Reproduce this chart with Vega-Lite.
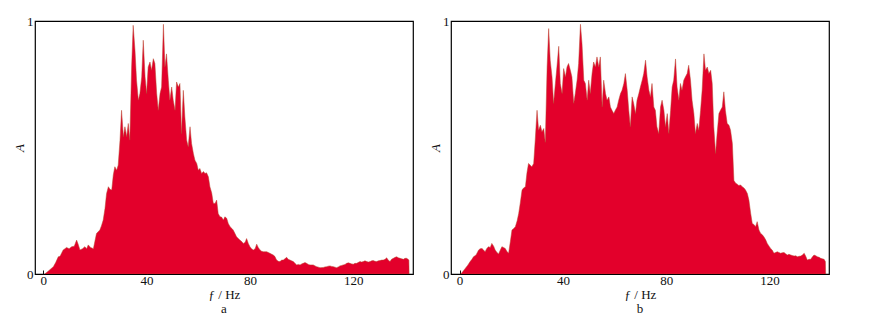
{
  "$schema": "https://vega.github.io/schema/vega-lite/v6.json",
  "background": "white",
  "padding": {"left": 12, "top": 14, "right": 5, "bottom": 4},
  "spacing": 14,
  "config": {
    "font": "Liberation Serif",
    "view": {"stroke": "black", "strokeWidth": 1.2},
    "axis": {
      "grid": false,
      "domain": false,
      "labelFont": "Liberation Serif",
      "titleFont": "Liberation Serif",
      "labelFontSize": 13,
      "titleFontSize": 13,
      "titleFontWeight": "normal",
      "labelColor": "#111",
      "titleColor": "#111",
      "tickColor": "#111"
    },
    "title": {"font": "Liberation Serif", "fontSize": 13, "fontWeight": "normal", "color": "#111"}
  },
  "datasets": {
    "a": [
      {"f": 0.6, "A": 0}, {"f": 2.0, "A": 0.012}, {"f": 3.9, "A": 0.029}, {"f": 4.8, "A": 0.045}, {"f": 5.8, "A": 0.068},
      {"f": 6.5, "A": 0.07}, {"f": 7.7, "A": 0.095}, {"f": 8.4, "A": 0.1}, {"f": 9.0, "A": 0.105}, {"f": 10.0, "A": 0.1},
      {"f": 11.0, "A": 0.108}, {"f": 12.0, "A": 0.11}, {"f": 12.9, "A": 0.134}, {"f": 13.5, "A": 0.118}, {"f": 14.2, "A": 0.095},
      {"f": 15.2, "A": 0.1}, {"f": 16.1, "A": 0.108}, {"f": 16.8, "A": 0.1}, {"f": 17.4, "A": 0.115}, {"f": 18.3, "A": 0.105},
      {"f": 19.4, "A": 0.1}, {"f": 20.0, "A": 0.13}, {"f": 20.6, "A": 0.16}, {"f": 21.9, "A": 0.174}, {"f": 22.5, "A": 0.19},
      {"f": 23.2, "A": 0.213}, {"f": 23.9, "A": 0.26}, {"f": 24.5, "A": 0.318}, {"f": 25.2, "A": 0.345}, {"f": 25.8, "A": 0.335},
      {"f": 26.5, "A": 0.332}, {"f": 27.1, "A": 0.391}, {"f": 27.7, "A": 0.424}, {"f": 28.4, "A": 0.41}, {"f": 29.0, "A": 0.43},
      {"f": 29.7, "A": 0.529}, {"f": 30.3, "A": 0.647}, {"f": 31.0, "A": 0.542}, {"f": 31.6, "A": 0.582}, {"f": 32.3, "A": 0.542},
      {"f": 32.9, "A": 0.595}, {"f": 33.5, "A": 0.529}, {"f": 34.2, "A": 0.818}, {"f": 34.8, "A": 0.983}, {"f": 35.5, "A": 0.884},
      {"f": 36.1, "A": 0.766}, {"f": 36.8, "A": 0.687}, {"f": 37.4, "A": 0.713}, {"f": 38.1, "A": 0.779}, {"f": 38.7, "A": 0.924},
      {"f": 39.4, "A": 0.779}, {"f": 40.0, "A": 0.713}, {"f": 40.6, "A": 0.818}, {"f": 41.3, "A": 0.838}, {"f": 41.9, "A": 0.805},
      {"f": 42.6, "A": 0.851}, {"f": 43.2, "A": 0.832}, {"f": 43.9, "A": 0.713}, {"f": 44.5, "A": 0.647}, {"f": 45.2, "A": 0.713},
      {"f": 45.8, "A": 0.739}, {"f": 46.5, "A": 0.987}, {"f": 47.1, "A": 0.818}, {"f": 47.7, "A": 0.87}, {"f": 48.4, "A": 0.766},
      {"f": 49.0, "A": 0.687}, {"f": 49.7, "A": 0.739}, {"f": 50.3, "A": 0.687}, {"f": 51.0, "A": 0.647}, {"f": 51.6, "A": 0.759},
      {"f": 52.3, "A": 0.739}, {"f": 52.9, "A": 0.753}, {"f": 53.5, "A": 0.555}, {"f": 54.2, "A": 0.726}, {"f": 54.8, "A": 0.621},
      {"f": 55.5, "A": 0.529}, {"f": 56.1, "A": 0.503}, {"f": 56.8, "A": 0.582}, {"f": 57.4, "A": 0.516}, {"f": 58.1, "A": 0.476},
      {"f": 58.7, "A": 0.45}, {"f": 59.4, "A": 0.437}, {"f": 60.0, "A": 0.41}, {"f": 60.6, "A": 0.417}, {"f": 61.3, "A": 0.397},
      {"f": 62.0, "A": 0.405}, {"f": 62.6, "A": 0.397}, {"f": 63.2, "A": 0.4}, {"f": 63.9, "A": 0.384}, {"f": 64.5, "A": 0.345},
      {"f": 65.2, "A": 0.32}, {"f": 65.8, "A": 0.28}, {"f": 66.5, "A": 0.279}, {"f": 67.1, "A": 0.292}, {"f": 67.7, "A": 0.239},
      {"f": 68.4, "A": 0.226}, {"f": 69.0, "A": 0.225}, {"f": 69.7, "A": 0.213}, {"f": 70.3, "A": 0.226}, {"f": 71.0, "A": 0.22},
      {"f": 71.6, "A": 0.2}, {"f": 72.3, "A": 0.187}, {"f": 73.0, "A": 0.18}, {"f": 73.5, "A": 0.174}, {"f": 74.2, "A": 0.16},
      {"f": 74.8, "A": 0.147}, {"f": 75.5, "A": 0.14}, {"f": 76.1, "A": 0.134}, {"f": 76.8, "A": 0.128}, {"f": 77.4, "A": 0.121},
      {"f": 78.1, "A": 0.125}, {"f": 78.7, "A": 0.14}, {"f": 79.4, "A": 0.12}, {"f": 80.0, "A": 0.108}, {"f": 80.6, "A": 0.1},
      {"f": 81.3, "A": 0.095}, {"f": 82.0, "A": 0.1}, {"f": 82.6, "A": 0.118}, {"f": 83.2, "A": 0.105}, {"f": 83.9, "A": 0.095},
      {"f": 84.5, "A": 0.09}, {"f": 85.2, "A": 0.088}, {"f": 86.5, "A": 0.088}, {"f": 87.7, "A": 0.082}, {"f": 89.0, "A": 0.075},
      {"f": 89.6, "A": 0.07}, {"f": 90.3, "A": 0.055}, {"f": 91.0, "A": 0.05}, {"f": 91.6, "A": 0.049}, {"f": 92.3, "A": 0.055},
      {"f": 92.9, "A": 0.055}, {"f": 93.5, "A": 0.06}, {"f": 94.2, "A": 0.066}, {"f": 94.8, "A": 0.058}, {"f": 95.5, "A": 0.055},
      {"f": 96.1, "A": 0.052}, {"f": 96.8, "A": 0.049}, {"f": 97.4, "A": 0.042}, {"f": 98.1, "A": 0.036}, {"f": 98.7, "A": 0.038},
      {"f": 99.4, "A": 0.036}, {"f": 100.0, "A": 0.04}, {"f": 100.6, "A": 0.042}, {"f": 101.3, "A": 0.045}, {"f": 101.9, "A": 0.042},
      {"f": 102.6, "A": 0.038}, {"f": 103.2, "A": 0.036}, {"f": 104.5, "A": 0.036}, {"f": 105.2, "A": 0.032}, {"f": 105.8, "A": 0.029},
      {"f": 106.5, "A": 0.027}, {"f": 107.1, "A": 0.025}, {"f": 108.4, "A": 0.026}, {"f": 109.0, "A": 0.028}, {"f": 109.7, "A": 0.029},
      {"f": 110.3, "A": 0.031}, {"f": 111.0, "A": 0.032}, {"f": 111.6, "A": 0.03}, {"f": 112.3, "A": 0.029}, {"f": 112.9, "A": 0.027},
      {"f": 113.5, "A": 0.025}, {"f": 114.2, "A": 0.028}, {"f": 114.8, "A": 0.032}, {"f": 115.5, "A": 0.034}, {"f": 116.1, "A": 0.036},
      {"f": 116.8, "A": 0.038}, {"f": 117.4, "A": 0.042}, {"f": 118.1, "A": 0.044}, {"f": 118.7, "A": 0.042}, {"f": 119.4, "A": 0.04},
      {"f": 120.0, "A": 0.039}, {"f": 120.6, "A": 0.042}, {"f": 121.3, "A": 0.042}, {"f": 122.0, "A": 0.046}, {"f": 122.6, "A": 0.049},
      {"f": 123.2, "A": 0.047}, {"f": 123.9, "A": 0.049}, {"f": 124.5, "A": 0.052}, {"f": 125.2, "A": 0.049}, {"f": 125.8, "A": 0.047},
      {"f": 126.5, "A": 0.049}, {"f": 127.1, "A": 0.052}, {"f": 127.7, "A": 0.053}, {"f": 128.4, "A": 0.05}, {"f": 129.0, "A": 0.049},
      {"f": 129.7, "A": 0.052}, {"f": 130.3, "A": 0.053}, {"f": 131.0, "A": 0.055}, {"f": 131.6, "A": 0.055}, {"f": 132.3, "A": 0.058},
      {"f": 132.9, "A": 0.064}, {"f": 133.5, "A": 0.055}, {"f": 134.2, "A": 0.049}, {"f": 134.8, "A": 0.058}, {"f": 135.5, "A": 0.062},
      {"f": 136.2, "A": 0.066}, {"f": 136.8, "A": 0.068}, {"f": 137.4, "A": 0.064}, {"f": 138.1, "A": 0.062}, {"f": 138.7, "A": 0.06},
      {"f": 139.4, "A": 0.058}, {"f": 140.0, "A": 0.062}, {"f": 140.6, "A": 0.062}, {"f": 141.2, "A": 0.058}, {"f": 141.5, "A": 0.055},
      {"f": 141.6, "A": 0}
    ],
    "b": [
      {"f": 0.5, "A": 0}, {"f": 1.3, "A": 0.01}, {"f": 2.2, "A": 0.022}, {"f": 3.2, "A": 0.035}, {"f": 4.1, "A": 0.049},
      {"f": 4.8, "A": 0.058}, {"f": 5.4, "A": 0.068}, {"f": 6.4, "A": 0.075}, {"f": 7.4, "A": 0.095}, {"f": 8.0, "A": 0.1},
      {"f": 8.7, "A": 0.101}, {"f": 9.3, "A": 0.095}, {"f": 9.9, "A": 0.088}, {"f": 10.5, "A": 0.1}, {"f": 11.2, "A": 0.108},
      {"f": 11.9, "A": 0.105}, {"f": 12.5, "A": 0.121}, {"f": 13.2, "A": 0.11}, {"f": 13.8, "A": 0.095}, {"f": 14.5, "A": 0.085},
      {"f": 15.1, "A": 0.079}, {"f": 15.8, "A": 0.095}, {"f": 16.4, "A": 0.108}, {"f": 17.0, "A": 0.105}, {"f": 17.7, "A": 0.101},
      {"f": 18.3, "A": 0.09}, {"f": 19.0, "A": 0.082}, {"f": 19.7, "A": 0.13}, {"f": 20.3, "A": 0.174}, {"f": 21.0, "A": 0.18},
      {"f": 21.6, "A": 0.187}, {"f": 22.3, "A": 0.21}, {"f": 22.9, "A": 0.239}, {"f": 23.5, "A": 0.28}, {"f": 24.2, "A": 0.332},
      {"f": 24.8, "A": 0.34}, {"f": 25.5, "A": 0.345}, {"f": 26.1, "A": 0.4}, {"f": 26.7, "A": 0.437}, {"f": 27.4, "A": 0.43},
      {"f": 28.0, "A": 0.424}, {"f": 28.7, "A": 0.437}, {"f": 29.3, "A": 0.529}, {"f": 30.0, "A": 0.647}, {"f": 30.6, "A": 0.568},
      {"f": 31.3, "A": 0.588}, {"f": 31.9, "A": 0.562}, {"f": 32.6, "A": 0.575}, {"f": 33.2, "A": 0.52}, {"f": 33.9, "A": 0.818},
      {"f": 34.5, "A": 0.97}, {"f": 35.1, "A": 0.845}, {"f": 35.8, "A": 0.779}, {"f": 36.4, "A": 0.674}, {"f": 37.1, "A": 0.753},
      {"f": 37.7, "A": 0.818}, {"f": 38.4, "A": 0.9}, {"f": 39.0, "A": 0.753}, {"f": 39.7, "A": 0.713}, {"f": 40.3, "A": 0.812},
      {"f": 41.0, "A": 0.779}, {"f": 41.6, "A": 0.818}, {"f": 42.2, "A": 0.832}, {"f": 42.9, "A": 0.805}, {"f": 43.5, "A": 0.779},
      {"f": 44.2, "A": 0.674}, {"f": 44.8, "A": 0.713}, {"f": 45.5, "A": 0.766}, {"f": 46.1, "A": 0.832}, {"f": 46.8, "A": 0.987},
      {"f": 47.4, "A": 0.911}, {"f": 48.1, "A": 0.766}, {"f": 48.7, "A": 0.753}, {"f": 49.4, "A": 0.687}, {"f": 50.0, "A": 0.766},
      {"f": 50.6, "A": 0.713}, {"f": 51.3, "A": 0.792}, {"f": 51.9, "A": 0.838}, {"f": 52.6, "A": 0.818}, {"f": 53.2, "A": 0.858},
      {"f": 53.9, "A": 0.818}, {"f": 54.5, "A": 0.858}, {"f": 55.2, "A": 0.66}, {"f": 55.8, "A": 0.766}, {"f": 56.5, "A": 0.713},
      {"f": 57.1, "A": 0.687}, {"f": 57.8, "A": 0.7}, {"f": 58.4, "A": 0.66}, {"f": 59.0, "A": 0.647}, {"f": 59.7, "A": 0.634},
      {"f": 60.3, "A": 0.647}, {"f": 61.0, "A": 0.66}, {"f": 61.6, "A": 0.687}, {"f": 62.3, "A": 0.713}, {"f": 62.9, "A": 0.726},
      {"f": 63.6, "A": 0.753}, {"f": 64.2, "A": 0.792}, {"f": 64.9, "A": 0.726}, {"f": 65.5, "A": 0.647}, {"f": 66.1, "A": 0.582},
      {"f": 66.8, "A": 0.7}, {"f": 67.4, "A": 0.674}, {"f": 68.1, "A": 0.634}, {"f": 68.7, "A": 0.687}, {"f": 69.4, "A": 0.713},
      {"f": 70.0, "A": 0.739}, {"f": 70.7, "A": 0.766}, {"f": 71.3, "A": 0.792}, {"f": 72.0, "A": 0.845}, {"f": 72.6, "A": 0.779},
      {"f": 73.3, "A": 0.726}, {"f": 73.9, "A": 0.7}, {"f": 74.5, "A": 0.753}, {"f": 75.2, "A": 0.66}, {"f": 75.8, "A": 0.647},
      {"f": 76.4, "A": 0.582}, {"f": 77.1, "A": 0.555}, {"f": 77.8, "A": 0.66}, {"f": 78.4, "A": 0.687}, {"f": 79.1, "A": 0.647},
      {"f": 79.7, "A": 0.582}, {"f": 80.4, "A": 0.634}, {"f": 81.0, "A": 0.555}, {"f": 81.7, "A": 0.647}, {"f": 82.3, "A": 0.739},
      {"f": 82.9, "A": 0.766}, {"f": 83.6, "A": 0.85}, {"f": 84.2, "A": 0.739}, {"f": 84.9, "A": 0.687}, {"f": 85.5, "A": 0.753},
      {"f": 86.1, "A": 0.726}, {"f": 86.8, "A": 0.766}, {"f": 87.4, "A": 0.779}, {"f": 88.1, "A": 0.792}, {"f": 88.7, "A": 0.825},
      {"f": 89.4, "A": 0.766}, {"f": 90.0, "A": 0.687}, {"f": 90.7, "A": 0.634}, {"f": 91.3, "A": 0.555}, {"f": 92.0, "A": 0.595},
      {"f": 92.6, "A": 0.568}, {"f": 93.3, "A": 0.647}, {"f": 93.9, "A": 0.726}, {"f": 94.6, "A": 0.87}, {"f": 95.2, "A": 0.805},
      {"f": 95.9, "A": 0.818}, {"f": 96.5, "A": 0.792}, {"f": 97.2, "A": 0.805}, {"f": 97.8, "A": 0.753}, {"f": 98.4, "A": 0.582},
      {"f": 99.1, "A": 0.476}, {"f": 99.7, "A": 0.555}, {"f": 100.4, "A": 0.634}, {"f": 101.0, "A": 0.647}, {"f": 101.7, "A": 0.66},
      {"f": 102.3, "A": 0.72}, {"f": 102.9, "A": 0.647}, {"f": 103.6, "A": 0.595}, {"f": 104.3, "A": 0.588}, {"f": 104.9, "A": 0.568},
      {"f": 105.6, "A": 0.516}, {"f": 106.2, "A": 0.37}, {"f": 106.8, "A": 0.36}, {"f": 107.5, "A": 0.355}, {"f": 108.1, "A": 0.35},
      {"f": 108.8, "A": 0.352}, {"f": 109.4, "A": 0.345}, {"f": 110.1, "A": 0.34}, {"f": 110.7, "A": 0.332}, {"f": 111.4, "A": 0.318},
      {"f": 112.0, "A": 0.292}, {"f": 112.7, "A": 0.239}, {"f": 113.3, "A": 0.2}, {"f": 114.0, "A": 0.195}, {"f": 114.6, "A": 0.187},
      {"f": 115.2, "A": 0.207}, {"f": 115.9, "A": 0.174}, {"f": 116.5, "A": 0.161}, {"f": 117.2, "A": 0.155}, {"f": 117.8, "A": 0.147},
      {"f": 118.5, "A": 0.135}, {"f": 119.1, "A": 0.121}, {"f": 119.8, "A": 0.11}, {"f": 120.4, "A": 0.101}, {"f": 121.0, "A": 0.095},
      {"f": 121.7, "A": 0.082}, {"f": 122.3, "A": 0.085}, {"f": 123.0, "A": 0.088}, {"f": 123.6, "A": 0.085}, {"f": 124.3, "A": 0.082},
      {"f": 124.9, "A": 0.084}, {"f": 125.6, "A": 0.085}, {"f": 126.2, "A": 0.08}, {"f": 126.9, "A": 0.075}, {"f": 127.5, "A": 0.078},
      {"f": 128.2, "A": 0.075}, {"f": 128.8, "A": 0.073}, {"f": 129.5, "A": 0.071}, {"f": 130.1, "A": 0.072}, {"f": 130.8, "A": 0.068},
      {"f": 131.4, "A": 0.07}, {"f": 132.1, "A": 0.071}, {"f": 132.7, "A": 0.075}, {"f": 133.4, "A": 0.082}, {"f": 134.0, "A": 0.07},
      {"f": 134.6, "A": 0.055}, {"f": 135.3, "A": 0.058}, {"f": 135.9, "A": 0.058}, {"f": 136.6, "A": 0.068}, {"f": 137.2, "A": 0.075},
      {"f": 137.9, "A": 0.072}, {"f": 138.5, "A": 0.068}, {"f": 139.2, "A": 0.066}, {"f": 139.8, "A": 0.062}, {"f": 140.4, "A": 0.06},
      {"f": 141.1, "A": 0.058}, {"f": 141.6, "A": 0.049}, {"f": 141.7, "A": 0}
    ]
  },
  "hconcat": [
    {
      "width": 378,
      "height": 253,
      "data": {"name": "a"},
      "title": {"text": "a", "orient": "bottom", "offset": 2},
      "mark": {"type": "area", "color": "#e3002b", "stroke": "#b8452e", "strokeWidth": 0.5, "clip": true},
      "encoding": {
        "x": {"field": "f", "type": "quantitative", "scale": {"domain": [-3.2, 143.1], "nice": false, "zero": false},
              "axis": {"values": [0, 40, 80, 120], "format": "d", "title": "ƒ / Hz", "tickSize": -4, "labelPadding": 4, "titlePadding": 1, "labelFlush": false}},
        "y": {"field": "A", "type": "quantitative", "scale": {"domain": [0, 1], "nice": false},
              "axis": {"values": [0, 1], "format": "d", "title": "A", "titleFontStyle": "italic", "tickSize": 0, "labelPadding": 2, "titlePadding": 0, "labelFlush": false}}
      }
    },
    {
      "width": 378,
      "height": 253,
      "data": {"name": "b"},
      "title": {"text": "b", "orient": "bottom", "offset": 2},
      "mark": {"type": "area", "color": "#e3002b", "stroke": "#b8452e", "strokeWidth": 0.5, "clip": true},
      "encoding": {
        "x": {"field": "f", "type": "quantitative", "scale": {"domain": [-3.3, 143], "nice": false, "zero": false},
              "axis": {"values": [0, 40, 80, 120], "format": "d", "title": "ƒ / Hz", "tickSize": -4, "labelPadding": 4, "titlePadding": 1, "labelFlush": false}},
        "y": {"field": "A", "type": "quantitative", "scale": {"domain": [0, 1], "nice": false},
              "axis": {"values": [0, 1], "format": "d", "title": "A", "titleFontStyle": "italic", "tickSize": 0, "labelPadding": 2, "titlePadding": 0, "labelFlush": false}}
      }
    }
  ]
}
